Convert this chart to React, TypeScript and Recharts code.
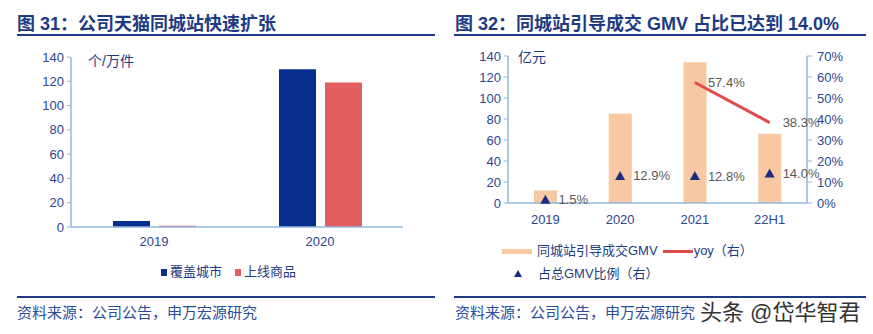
import React from "react";
import {
  BarChart,
  Bar,
  ComposedChart,
  Line,
  XAxis,
  YAxis,
} from "recharts";

// 图31 data
const cityYears = ["2019", "2020"];
const coveredCities = [5, 130];
const listedItems = [1, 119];
const cityTicks = [0, 20, 40, 60, 80, 100, 120, 140];

// 图32 data
const gmvPeriods = ["2019", "2020", "2021", "22H1"];
const gmvValues = [12, 85, 134, 66];
const yoyValues: (number | null)[] = [null, null, 57.4, 38.3];
const shareValues = [1.5, 12.9, 12.8, 14.0];
const gmvTicks = [0, 20, 40, 60, 80, 100, 120, 140];
const pctTicks = [0, 10, 20, 30, 40, 50, 60, 70];

const cityData = cityYears.map((year, i) => ({
  year,
  cities: coveredCities[i],
  items: listedItems[i],
}));

const gmvData = gmvPeriods.map((period, i) => ({
  period,
  gmv: gmvValues[i],
  yoy: yoyValues[i],
  share: shareValues[i],
}));

const FONT = '"Liberation Sans", Arial, "Noto Sans CJK SC", sans-serif';
const NAVY = "#1d3a82";
const TICK = "#2c468f";
const AXIS = "#93b6e0";
const LABEL = "#595959";

const tickStyle = { fill: TICK, fontSize: 13, fontFamily: FONT };

const Triangle = (props: any) => {
  const { cx, cy } = props;
  if (cx == null || cy == null) return null;
  return (
    <path
      d={`M${cx},${cy - 5} L${cx + 5},${cy + 4} L${cx - 5},${cy + 4} Z`}
      fill="#1b2c7e"
    />
  );
};

const pctLabel = (props: any) => {
  const { x, y, value } = props;
  if (value == null) return null;
  return (
    <text
      x={x + 13}
      y={y}
      dy="0.35em"
      fill={LABEL}
      fontSize={13}
      fontFamily={FONT}
      textAnchor="start"
    >
      {`${Number(value).toFixed(1)}%`}
    </text>
  );
};

const abs = (style: React.CSSProperties): React.CSSProperties => ({
  position: "absolute",
  ...style,
});

export default function App() {
  return (
    <div
      style={{
        position: "absolute",
        left: 0,
        top: 0,
        width: 873,
        height: 334,
        background: "#fff",
        fontFamily: FONT,
        overflow: "hidden",
      }}
    >
      {/* titles */}
      <div
        style={abs({
          left: 17,
          top: 13,
          fontSize: 18,
          fontWeight: 700,
          color: NAVY,
          whiteSpace: "nowrap",
          lineHeight: "22px",
        })}
      >
        图 31：公司天猫同城站快速扩张
      </div>
      <div
        style={abs({
          left: 455,
          top: 13,
          fontSize: 18,
          fontWeight: 700,
          color: NAVY,
          whiteSpace: "nowrap",
          lineHeight: "22px",
        })}
      >
        图 32：同城站引导成交 GMV 占比已达到 14.0%
      </div>
      <div style={abs({ left: 17, top: 34, width: 418, height: 2, background: NAVY })} />
      <div style={abs({ left: 454, top: 34, width: 412, height: 2, background: NAVY })} />

      {/* left chart */}
      <div style={abs({ left: 0, top: 0 })}>
        <BarChart
          width={440}
          height={300}
          data={cityData}
          margin={{ top: 57, right: 37, bottom: 43, left: 31 }}
          barGap={9}
        >
          <XAxis
            dataKey="year"
            axisLine={{ stroke: AXIS, strokeWidth: 1.5 }}
            tickLine={false}
            tickSize={0}
            tickMargin={10}
            height={30}
            tick={tickStyle}
          />
          <YAxis
            domain={[0, 140]}
            ticks={cityTicks}
            width={40}
            axisLine={{ stroke: AXIS, strokeWidth: 1.5 }}
            tickLine={{ stroke: AXIS }}
            tickSize={4}
            tickMargin={3}
            tick={tickStyle}
            interval={0}
          />
          <Bar dataKey="cities" fill="#062e8f" barSize={37} isAnimationActive={false} />
          <Bar dataKey="items" fill="#e35e5e" barSize={37} isAnimationActive={false} />
        </BarChart>
      </div>
      <div style={abs({ left: 88, top: 52, fontSize: 14, color: NAVY, lineHeight: "18px" })}>
        个/万件
      </div>
      {/* left legend */}
      <div style={abs({ left: 161, top: 264, fontSize: 13, color: NAVY, lineHeight: "16px", display: "flex", alignItems: "center", whiteSpace: "nowrap" })}>
        <span style={{ width: 6, height: 7, background: "#062e8f", marginRight: 3 }} />
        <span>覆盖城市</span>
        <span style={{ width: 6, height: 7, background: "#e35e5e", marginLeft: 13, marginRight: 3 }} />
        <span>上线商品</span>
      </div>

      {/* right chart */}
      <div style={abs({ left: 440, top: 0 })}>
        <ComposedChart
          width={433}
          height={300}
          data={gmvData}
          margin={{ top: 56, right: 21, bottom: 67, left: 28 }}
        >
          <XAxis
            dataKey="period"
            axisLine={{ stroke: AXIS, strokeWidth: 1.5 }}
            tickLine={false}
            tickSize={0}
            tickMargin={12}
            height={30}
            tick={tickStyle}
          />
          <YAxis
            yAxisId="left"
            domain={[0, 140]}
            ticks={gmvTicks}
            width={40}
            axisLine={{ stroke: AXIS, strokeWidth: 1.5 }}
            tickLine={{ stroke: AXIS }}
            tickSize={4}
            tickMargin={3}
            tick={tickStyle}
            interval={0}
          />
          <YAxis
            yAxisId="right"
            orientation="right"
            domain={[0, 70]}
            ticks={pctTicks}
            width={45}
            axisLine={{ stroke: AXIS, strokeWidth: 1.5 }}
            tickLine={{ stroke: AXIS }}
            tickSize={5}
            tickMargin={5}
            tick={tickStyle}
            tickFormatter={(v: number) => `${v}%`}
            interval={0}
          />
          <Bar
            yAxisId="left"
            dataKey="gmv"
            fill="#f8c8a3"
            barSize={23}
            isAnimationActive={false}
          />
          <Line
            yAxisId="right"
            dataKey="yoy"
            stroke="#e04a4c"
            strokeWidth={3}
            dot={false}
            activeDot={false}
            label={pctLabel}
            isAnimationActive={false}
          />
          <Line
            yAxisId="right"
            dataKey="share"
            stroke="none"
            strokeWidth={0}
            dot={<Triangle />}
            activeDot={false}
            label={pctLabel}
            isAnimationActive={false}
          />
        </ComposedChart>
      </div>
      <div style={abs({ left: 518, top: 48, fontSize: 14, color: NAVY, lineHeight: "18px" })}>
        亿元
      </div>
      {/* right legend */}
      <div style={abs({ left: 502, top: 243, fontSize: 13, color: NAVY, lineHeight: "16px", display: "flex", alignItems: "center", whiteSpace: "nowrap" })}>
        <span style={{ width: 30, height: 5, background: "#f8c8a3", marginRight: 5 }} />
        <span>同城站引导成交GMV</span>
        <span style={{ width: 30, height: 3, background: "#e04a4c", marginLeft: 5, marginRight: 1 }} />
        <span>yoy（右）</span>
      </div>
      <div style={abs({ left: 513, top: 266, fontSize: 13, color: NAVY, lineHeight: "16px", display: "flex", alignItems: "center", whiteSpace: "nowrap" })}>
        <svg width={10} height={10} style={{ marginRight: 15 }}>
          <path d="M5,1 L9,8 L1,8 Z" fill="#1b2c7e" />
        </svg>
        <span>占总GMV比例（右）</span>
      </div>

      {/* bottom rules and sources */}
      <div style={abs({ left: 17, top: 296, width: 418, height: 2, background: NAVY })} />
      <div style={abs({ left: 454, top: 296, width: 412, height: 2, background: NAVY })} />
      <div style={abs({ left: 17, top: 303, fontSize: 15, color: "#2b4c9b", lineHeight: "20px", whiteSpace: "nowrap" })}>
        资料来源：公司公告，申万宏源研究
      </div>
      <div style={abs({ left: 455, top: 303, fontSize: 15, color: "#2b4c9b", lineHeight: "20px", whiteSpace: "nowrap" })}>
        资料来源：公司公告，申万宏源研究
      </div>
      <div style={abs({ left: 700, top: 300, fontSize: 22, color: "#333", lineHeight: "26px", whiteSpace: "nowrap" })}>
        头条 @岱华智君
      </div>
    </div>
  );
}
